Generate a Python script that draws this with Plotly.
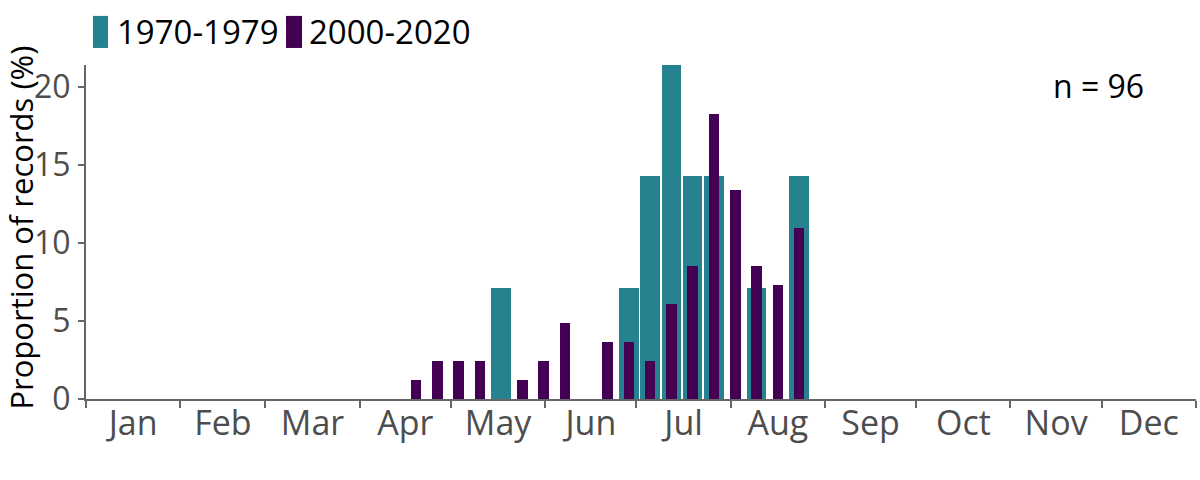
import plotly.graph_objects as go

# ---- data ----
months = ["Jan", "Feb", "Mar", "Apr", "May", "Jun", "Jul", "Aug", "Sep", "Oct", "Nov", "Dec"]
month_days = [31, 28, 31, 30, 31, 30, 31, 31, 30, 31, 30, 31]

weeks_1970s = [20, 26, 27, 28, 29, 30, 32, 34]
pct_1970s = [7.14, 7.14, 14.29, 21.43, 14.29, 14.29, 7.14, 14.29]

weeks_2000s = [16, 17, 18, 19, 21, 22, 23, 25, 26, 27, 28, 29, 30, 31, 32, 33, 34]
pct_2000s = [1.22, 2.44, 2.44, 2.44, 1.22, 2.44, 4.88, 3.66, 3.66, 2.44, 6.10, 8.54,
             18.29, 13.41, 8.54, 7.32, 10.98]

n_label = "n = 96"
y_title = "Proportion of records (%)"
y_ticks = [0, 5, 10, 15, 20]

# ---- derived positions (day of year) ----
bounds = [0]
for d in month_days:
    bounds.append(bounds[-1] + d)
mids = [(bounds[i] + bounds[i + 1]) / 2 for i in range(12)]


def week_center(w):
    return (w - 0.5) * 7


TEAL = "#26828E"
PURPLE = "#440154"
FONT = "Open Sans"

fig = go.Figure()
fig.add_trace(go.Bar(
    x=[week_center(w) for w in weeks_1970s], y=pct_1970s, width=6.4,
    marker=dict(color=TEAL, line=dict(width=0)), name="1970-1979", showlegend=False))
fig.add_trace(go.Bar(
    x=[week_center(w) for w in weeks_2000s], y=pct_2000s, width=3.5,
    marker=dict(color=PURPLE, line=dict(width=0)), name="2000-2020", showlegend=False))

# custom legend (swatches + text)
legend_items = [("1970-1979", TEAL, 0.0063, 0.0198, 0.026),
                ("2000-2020", PURPLE, 0.1802, 0.1946, 0.199)]
for label, col, x0, x1, xt in legend_items:
    fig.add_shape(type="rect", xref="paper", yref="paper", x0=x0, x1=x1, y0=1.051, y1=1.147,
                  fillcolor=col, line=dict(width=0))
    fig.add_annotation(xref="paper", yref="paper", x=xt, y=1.099, text=label, showarrow=False,
                       xanchor="left", yanchor="middle", font=dict(size=33, color="black", family=FONT))

fig.add_annotation(xref="paper", yref="paper", x=0.955, y=0.94, text=n_label, showarrow=False,
                   xanchor="right", yanchor="middle", font=dict(size=32, color="black", family=FONT))

# y-axis title (box left edge kept just inside the figure)
fig.add_annotation(xref="paper", yref="paper", x=-0.0586, y=0.513, text=y_title, showarrow=False,
                   textangle=-90, xanchor="center", yanchor="middle",
                   font=dict(size=31, color="black", family=FONT))

fig.update_layout(
    width=1200, height=480,
    margin=dict(l=86, r=4, t=65, b=81),
    paper_bgcolor="white", plot_bgcolor="white",
    barmode="overlay", bargap=0,
    font=dict(family=FONT, color="#4D4D4D"),
    xaxis=dict(
        range=[0, 365], tickmode="array", tickvals=mids, ticktext=months,
        ticks="outside", ticklen=0, showgrid=False, zeroline=False, automargin=False,
        showline=True, linecolor="#666666", linewidth=2, ticklabelstandoff=-7,
        tickfont=dict(size=34, color="#4D4D4D", family=FONT),
        minor=dict(tickmode="array", tickvals=bounds, ticks="outside", ticklen=7,
                   tickwidth=2, tickcolor="#666666", showgrid=False),
    ),
    yaxis=dict(
        range=[0, 21.43], tickmode="array", tickvals=y_ticks, automargin=False,
        ticks="outside", ticklen=6, tickwidth=2, tickcolor="#666666", ticklabelstandoff=1,
        showgrid=False, zeroline=False, showline=True, linecolor="#666666", linewidth=2,
        tickfont=dict(size=32, color="#4D4D4D", family=FONT),
    ),
)

fig.write_html("out.html", config={"displayModeBar": False},
               post_script="document.body.style.margin='0';")
